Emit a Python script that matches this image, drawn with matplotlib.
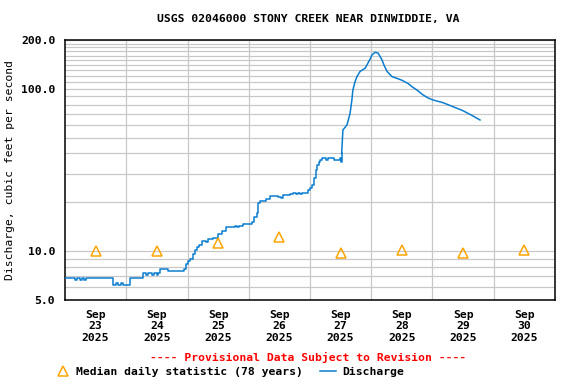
#!/usr/bin/env python3
"""
USGS 02046000 Stony Creek near Dinwiddie, VA - discharge hydrograph, Sep 23-30 2025
"""

import matplotlib
matplotlib.use('Agg')
import matplotlib.pyplot as plt
from matplotlib.lines import Line2D
from matplotlib.ticker import FixedLocator, NullFormatter

matplotlib.rcParams['font.family'] = ['DejaVu Sans Mono']
matplotlib.rcParams['font.weight'] = 'bold'
matplotlib.rcParams['font.size'] = 8.2

# hours since Sep 23 00:00, discharge (cfs)
hours = [0.0, 3.9, 4.7, 5.9, 6.7, 7.4, 8.2, 18.8, 20.0, 20.8, 22.0, 22.7, 25.5,
         30.6, 31.7, 32.5, 34.1, 34.9, 36.1, 36.4, 37.2, 40.4, 46.6, 47.4, 48.2,
         49.0, 50.1, 50.9, 51.7, 52.5, 53.7, 55.3, 56.0, 58.0, 59.9, 61.5, 63.1,
         66.6, 67.4, 68.2, 69.7, 73.3, 74.0, 75.2, 75.8, 76.4, 78.8, 80.3, 83.5,
         84.6, 85.4, 88.2, 89.3, 90.5, 91.3, 92.1, 92.8, 94.0, 95.2, 96.0, 96.8,
         97.6, 98.3, 98.7, 99.5, 99.9, 100.7, 102.3, 103.1, 104.6, 105.4, 107.0,
         107.7, 108.1, 108.4, 108.9, 110.5, 111.7, 112.4, 112.8, 113.6, 114.4,
         115.6, 117.6, 118.7, 119.5, 120.3, 121.5, 122.7, 124.2, 125.0, 126.2,
         128.1, 130.1, 132.0, 134.4, 136.0, 137.9, 140.3, 142.2, 144.2, 148.1,
         152.0, 155.9, 159.9, 162.6]
discharge = [6.8, 6.6, 6.8, 6.6, 6.8, 6.6, 6.8, 6.2, 6.4, 6.2, 6.4, 6.2, 6.8,
             7.3, 7.1, 7.3, 7.1, 7.3, 7.1, 7.3, 7.8, 7.5, 7.8, 8.3, 8.7,
             9.0, 9.6, 10.2, 10.6, 10.9, 11.6, 11.4, 11.9, 12.0, 12.75, 13.3, 14.0,
             14.3, 14.0, 14.3, 14.8, 15.2, 16.3, 17.1, 19.7, 20.4, 20.9, 21.9, 21.6,
             21.2, 22.3, 22.4, 22.9, 22.4, 22.9, 22.4, 22.9, 22.9, 23.8, 24.6, 25.5,
             28.1, 31.6, 33.9, 35.5, 36.4, 37.3, 36.6, 37.3, 37.3, 36.6, 36.6,
             37.3, 35.5, 40.0, 55.8, 60.0, 70.7, 85.0, 98.4, 110.0, 119.0,
             128.0, 134.0, 144.0, 152.0, 162.0, 168.0, 166.0, 151.0, 140.0, 128.0,
             119.0, 116.0, 113.0, 108.0, 103.0, 98.4, 91.7, 88.0, 85.4, 82.2,
             77.7, 73.4, 68.0, 64.3]
rise_start = 74  # index where the flood rise begins (hour 108.4)

# median daily statistic (78 years), plotted at noon of each day
median_hours = [12, 36, 60, 84, 108, 132, 156, 180]
median_cfs = [10.0, 10.0, 11.3, 12.3, 9.8, 10.1, 9.8, 10.1]

day_labels = ['Sep\n23\n2025', 'Sep\n24\n2025', 'Sep\n25\n2025', 'Sep\n26\n2025',
              'Sep\n27\n2025', 'Sep\n28\n2025', 'Sep\n29\n2025', 'Sep\n30\n2025']
y_labels = [5, 10, 100, 200]
y_grid = [6, 7, 8, 9, 20, 30, 40, 50, 60, 70, 80, 90,
          110, 120, 130, 140, 150, 160, 170, 180, 190]

line_color = '#0a7dd0'
tri_color = '#ffa500'
grid_color = '#c8c8c8'

fig = plt.figure(figsize=(5.76, 3.84), dpi=100)
ax = fig.add_axes([65 / 576, 84 / 384, 490 / 576, 260 / 384])

ax.set_yscale('log')
ax.set_ylim(5, 200)
ax.set_xlim(0, 192)

# low flow part as a staircase, flood part as a plain line
ax.plot(hours[:rise_start + 1], discharge[:rise_start + 1], color=line_color,
        linewidth=1.1, drawstyle='steps-post', zorder=3)
ax.plot(hours[rise_start:], discharge[rise_start:], color=line_color,
        linewidth=1.1, zorder=3)
ax.plot(median_hours, median_cfs, linestyle='none', marker='^', markersize=7.5,
        markerfacecolor='none', markeredgecolor=tri_color, markeredgewidth=1.1, zorder=4)

# y axis: labels only at a few values, gridlines at every minor step
ax.yaxis.set_major_locator(FixedLocator(y_labels))
ax.yaxis.set_minor_locator(FixedLocator(y_grid))
ax.set_yticklabels([f'{v:.1f}' for v in y_labels])
ax.yaxis.set_minor_formatter(NullFormatter())

# x axis: labels at noon, gridlines at midnight
ax.xaxis.set_major_locator(FixedLocator(median_hours))
ax.set_xticklabels(day_labels, linespacing=1.2)
ax.xaxis.set_minor_locator(FixedLocator([24 * i for i in range(1, 8)]))

ax.tick_params(which='both', length=0)
ax.tick_params(axis='x', pad=7)
ax.tick_params(axis='y', pad=7)

ax.grid(True, which='minor', color=grid_color, linewidth=0.9)
ax.grid(True, which='major', axis='y', color=grid_color, linewidth=0.9)
ax.set_axisbelow(True)

for s in ax.spines.values():
    s.set_linewidth(1.1)
    s.set_color('black')

ax.set_ylabel('Discharge, cubic feet per second', labelpad=4)

fig.text(0.535, 0.951, 'USGS 02046000 STONY CREEK NEAR DINWIDDIE, VA',
         ha='center', va='center')
fig.text(0.535, 0.068, '---- Provisional Data Subject to Revision ----',
         ha='center', va='center', color='red')

handles = [
    Line2D([], [], linestyle='none', marker='^', markersize=7.5, markerfacecolor='none',
           markeredgecolor=tri_color, markeredgewidth=1.1),
    Line2D([], [], color=line_color, linewidth=1.1),
]
fig.legend(handles, ['Median daily statistic (78 years)', 'Discharge'],
           loc='center left', bbox_to_anchor=(0.095, 0.031), ncol=2, frameon=False,
           borderpad=0, borderaxespad=0, handlelength=1.4, handletextpad=0.5,
           columnspacing=1.5)

plt.savefig('out.png', dpi=100)
